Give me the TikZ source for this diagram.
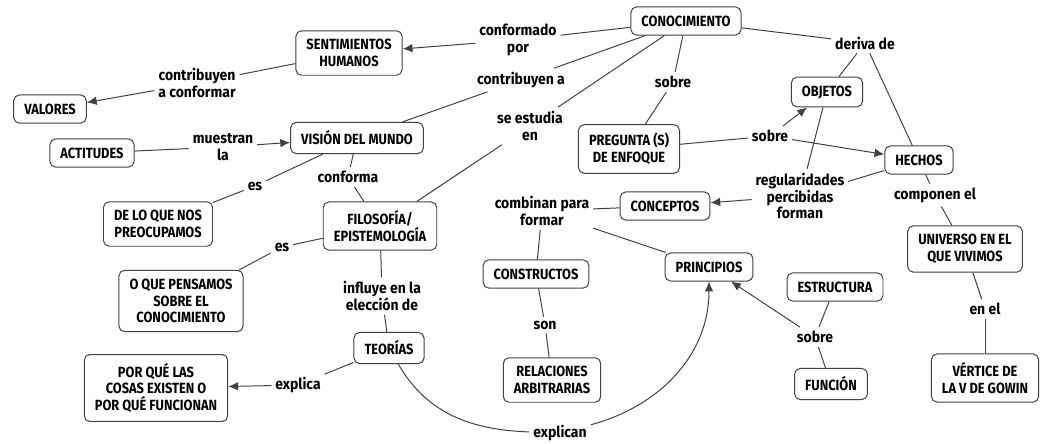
\documentclass[tikz,border=0pt]{standalone}
\usepackage{fontspec}
\newfontfamily\mapfont{Fira Sans}[FakeStretch=0.87]
\newfontfamily\linkfont{Fira Sans}[FakeStretch=0.92]
\usetikzlibrary{arrows.meta}

\begin{document}
\begin{tikzpicture}[x=0.025cm, y=-0.025cm, line width=0.7pt,
  concept/.style={draw=black!75, rounded corners=4pt, fill=white, align=center,
    font=\mapfont\bfseries\fontsize{10.5}{12}\selectfont,
    inner xsep=7.5pt, inner ysep=6pt, minimum height=20pt},
  link/.style={align=center, font=\linkfont\bfseries\fontsize{10.8}{12}\selectfont, inner sep=2.5pt},
  wire/.style={draw=black!75},
  arr/.style={wire, -{Latex[length=7pt,width=6pt]}}]

  \useasboundingbox (0,0) rectangle (1040,443);

  % ---------- concepts ----------
  \node[concept] (conocimiento) at (686,21)  {CONOCIMIENTO};
  \node[concept] (sentimientos) at (349,53)  {SENTIMIENTOS\\HUMANOS};
  \node[concept] (valores)      at (50,109)  {VALORES};
  \node[concept] (actitudes)    at (92,153)  {ACTITUDES};
  \node[concept] (vision)       at (357,138) {VISIÓN DEL MUNDO};
  \node[concept] (preocupamos)  at (158,224) {DE LO QUE NOS\\PREOCUPAMOS};
  \node[concept] (filosofia)    at (380,226) {FILOSOFÍA/\\EPISTEMOLOGÍA};
  \node[concept] (pensamos)     at (181,301) {O QUE PENSAMOS\\SOBRE EL\\CONOCIMIENTO};
  \node[concept] (teorias)      at (389,348) {TEORÍAS};
  \node[concept] (porque)       at (156,388) {POR QUÉ LAS\\COSAS EXISTEN O\\POR QUÉ FUNCIONAN};
  \node[concept] (pregunta)     at (629,149) {PREGUNTA (S)\\DE ENFOQUE};
  \node[concept] (objetos)      at (827,92)  {OBJETOS};
  \node[concept] (hechos)       at (919,160) {HECHOS};
  \node[concept] (conceptos)    at (665,206) {CONCEPTOS};
  \node[concept] (constructos)  at (536,274) {CONSTRUCTOS};
  \node[concept] (principios)   at (709,267) {PRINCIPIOS};
  \node[concept] (estructura)   at (835,287) {ESTRUCTURA};
  \node[concept] (universo)     at (965,249) {UNIVERSO EN EL\\QUE VIVIMOS};
  \node[concept] (relaciones)   at (552,380) {RELACIONES\\ARBITRARIAS};
  \node[concept] (funcion)      at (831,384) {FUNCIÓN};
  \node[concept] (vertice)      at (985,378) {VÉRTICE DE\\LA V DE GOWIN};

  % ---------- linking words ----------
  \node[link] (lconformado) at (518,40)  {conformado\\por};
  \node[link] (lcontribA)   at (197,83)  {contribuyen\\a conformar};
  \node[link] (lcontrib)    at (521,80)  {contribuyen a};
  \node[link] (lestudia)    at (530,126) {se estudia\\en};
  \node[link] (lsobreA)     at (673,82)  {sobre};
  \node[link] (lderiva)     at (865,43)  {deriva de};
  \node[link] (lmuestran)   at (223,147) {muestran\\la};
  \node[link] (lesA)        at (255,186) {es};
  \node[link] (lconforma)   at (348,177) {conforma};
  \node[link] (lesB)        at (282,247) {es};
  \node[link] (linfluye)    at (382,296) {influye en la\\elección de};
  \node[link] (lexplica)    at (298,385) {explica};
  \node[link] (lexplican)   at (560,433) {explican};
  \node[link] (lsobreB)     at (770,136) {sobre};
  \node[link] (lregular)    at (800,196) {regularidades\\percibidas\\forman};
  \node[link] (lcomponen)   at (935,195) {componen el};
  \node[link] (lcombinan)   at (542,211) {combinan para\\formar};
  \node[link] (lson)        at (545,325) {son};
  \node[link] (lsobreC)     at (815,337) {sobre};
  \node[link] (lenel)       at (985,309) {en el};

  % ---------- connectors ----------
  \draw[wire] (conocimiento) -- (lconformado);
  \draw[arr]  (lconformado) -- (sentimientos);
  \draw[wire] (sentimientos) -- (lcontribA);
  \draw[arr]  (lcontribA) -- (valores);
  \draw[wire] (conocimiento) -- (lcontrib);
  \draw[wire] (lcontrib) -- (vision);
  \draw[wire] (conocimiento) -- (lestudia);
  \draw[wire] (lestudia) -- (filosofia);
  \draw[wire] (conocimiento) -- (lsobreA);
  \draw[wire] (lsobreA) -- (pregunta);
  \draw[wire] (conocimiento) -- (lderiva);
  \draw[wire] (lderiva) -- (objetos);
  \draw[wire] (lderiva) -- (hechos);
  \draw[wire] (actitudes) -- (lmuestran);
  \draw[arr]  (lmuestran) -- (vision);
  \draw[wire] (vision) -- (lesA);
  \draw[wire] (lesA) -- (preocupamos);
  \draw[wire] (vision) -- (lconforma);
  \draw[wire] (lconforma) -- (filosofia);
  \draw[wire] (filosofia) -- (lesB);
  \draw[wire] (lesB) -- (pensamos);
  \draw[wire] (filosofia) -- (linfluye);
  \draw[wire] (linfluye) -- (teorias);
  \draw[wire] (teorias) -- (lexplica);
  \draw[arr]  (lexplica) -- (porque);
  \draw[wire] (teorias) to[out=-60, in=178] (lexplican);
  \draw[arr]  (lexplican) to[out=15, in=-90] (principios);
  \draw[wire] (pregunta) -- (lsobreB);
  \draw[arr]  (lsobreB) -- (objetos);
  \draw[arr]  (lsobreB) -- (hechos);
  \draw[wire] (objetos) -- (lregular);
  \draw[wire] (hechos) -- (lregular);
  \draw[arr]  (lregular) -- (conceptos);
  \draw[wire] (hechos) -- (lcomponen);
  \draw[wire] (lcomponen) -- (universo);
  \draw[wire] (conceptos) -- (lcombinan);
  \draw[wire] (lcombinan) -- (constructos);
  \draw[wire] (lcombinan) -- (principios);
  \draw[wire] (constructos) -- (lson);
  \draw[wire] (lson) -- (relaciones);
  \draw[wire] (estructura) -- (lsobreC);
  \draw[wire] (funcion) -- (lsobreC);
  \draw[arr]  (lsobreC) -- (principios);
  \draw[wire] (universo) -- (lenel);
  \draw[wire] (lenel) -- (vertice);

\end{tikzpicture}
\end{document}
